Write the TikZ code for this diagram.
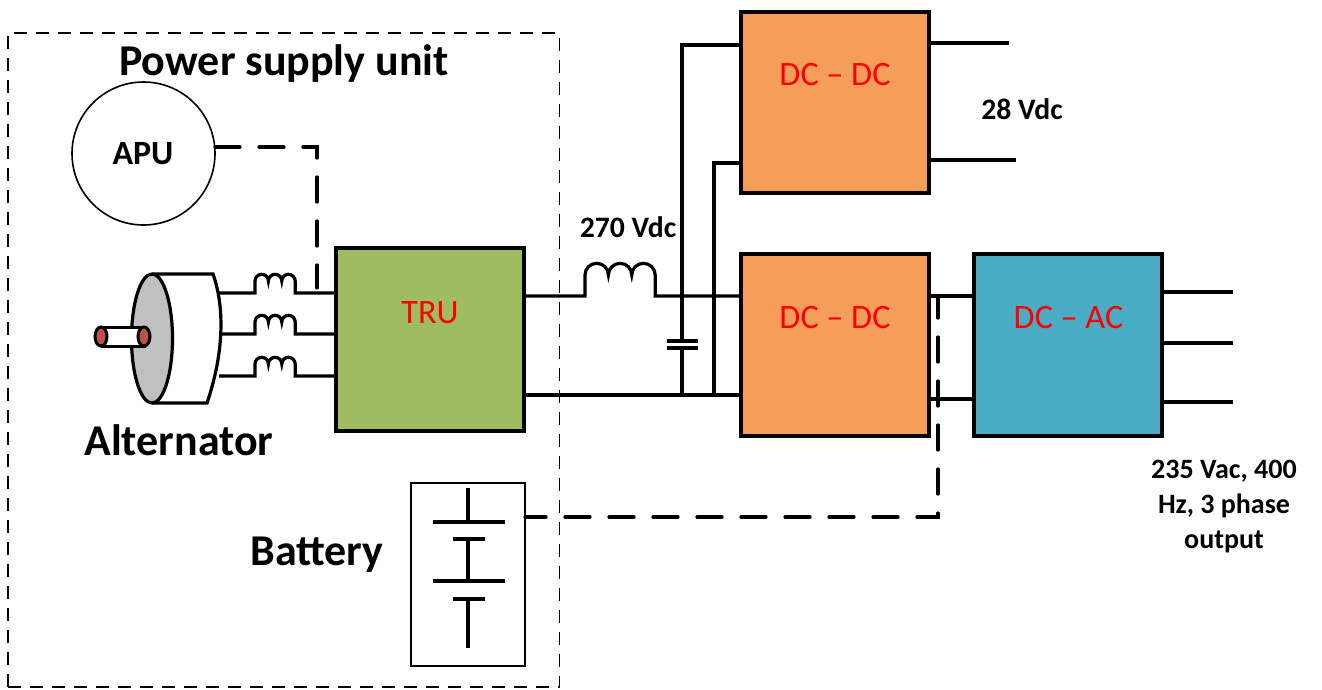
\documentclass[tikz,border=0pt]{standalone}
\usepackage{fontspec}
\setmainfont{Carlito}
\tikzset{
  wire/.style={line width=3.2pt,black},
  dashwire/.style={line width=3.2pt,black,line cap=round,dash pattern=on 25pt off 19pt},
  unitbox/.style={draw=black,line width=3.6pt,inner sep=0pt,anchor=north west},
  unitlabel/.style={text=red,font=\fontsize{34.2}{38}\selectfont},
  boldlabel/.style={font=\bfseries\fontsize{28}{35}\selectfont,align=center},
  midlabel/.style={font=\bfseries\fontsize{29.7}{34}\selectfont},
  biglabel/.style={font=\bfseries\fontsize{44}{48}\selectfont},
}
\definecolor{orangeC}{HTML}{F69E59}
\definecolor{greenC}{HTML}{9FBD60}
\definecolor{blueC}{HTML}{4BACC6}
\definecolor{greyC}{HTML}{C0C0C0}
\definecolor{redC}{HTML}{C0504D}
\begin{document}
\begin{tikzpicture}[x=1pt,y=-1pt]
\useasboundingbox (0,0) rectangle (1322,689);
% outer dashed
\draw[line width=1.6pt,dash pattern=on 13pt off 9pt] (8,687) -- (8,33) -- (559.5,33) -- (559.5,687) -- cycle;
\node[biglabel] (psu) at (284,64) {Power supply unit};
% APU
\node[draw,circle,line width=1.6pt,minimum size=143pt,inner sep=0pt] (apu) at (143.5,153.5) {};
\node[font=\bfseries\fontsize{34}{38}\selectfont] (apul) at (143,154) {APU};
% TRU
\node[unitbox,fill=greenC,minimum width=188pt,minimum height=183pt] (tru) at (334,246) {};
\node[unitlabel] (trul) at (430,312.5) {TRU};
% converters
\node[unitbox,fill=orangeC,minimum width=188pt,minimum height=181pt] (dc1) at (739,10) {};
\node[unitlabel] (dc1l) at (835,75) {DC -- DC};
\node[unitbox,fill=orangeC,minimum width=188pt,minimum height=182pt] (dc2) at (739,252) {};
\node[unitlabel] (dc2l) at (835,318) {DC -- DC};
\node[unitbox,fill=blueC,minimum width=188pt,minimum height=182pt] (ac) at (972,252) {};
\node[unitlabel] (acl) at (1068.5,318) {DC -- AC};
% alternator
\draw[line width=3.2pt,fill=white] (152,274) -- (213,274) .. controls (224,305) and (225,350) .. (207,403) -- (152,403);
\draw[line width=3.2pt,fill=greyC] (152,338.5) ellipse [x radius=20.5,y radius=64.5];
\draw[line width=3pt,fill=white] (101,327) -- (144,327) -- (144,346) -- (101,346);
\draw[line width=3pt,fill=redC] (101,336.5) ellipse [x radius=6,y radius=9.5];
\draw[line width=3pt,fill=redC] (144,336.5) ellipse [x radius=6,y radius=9.5];
\node[biglabel] (alt) at (179,440) {Alternator};
% three-phase
\foreach \y in {293,334,376}{
  \draw[wire] (219,\y) -- (255,\y) -- (255,\y-12) arc[start angle=180,end angle=360,radius=6.7]
     arc[start angle=180,end angle=360,radius=6.7] arc[start angle=180,end angle=360,radius=6.7]
     -- (295.2,\y) -- (336,\y);
}
\coordinate (apuout) at (215,147);
\coordinate (apudrop) at (317,147);
\coordinate (apuend) at (317,288);
\draw[dashwire] (apuout) -- (apudrop) -- (apuend);
% main bus
\coordinate (jt) at (682,296);
\coordinate (jb) at (682,395);
\coordinate (kt) at (714,296);
\coordinate (kb) at (714,395);
\draw[wire] (524,296) -- (585,296) -- (585,275) arc[start angle=180,end angle=360,radius=11.7]
  arc[start angle=180,end angle=360,radius=11.7] arc[start angle=180,end angle=360,radius=11.7]
  -- (655.2,296) -- (742,296);
\draw[wire] (524,395) -- (742,395);
\node[midlabel] (v270) at (628,227) {270 Vdc};
\draw[wire] (740,45) -- (682,45) -- (jt) -- (682,341);
\draw[wire] (667,341) -- (698,341);
\draw[wire] (667,348) -- (698,348);
\draw[wire] (682,348) -- (jb);
\draw[wire] (740,163) -- (714,163) -- (kt) -- (kb);
% outputs
\draw[wire] (928,43) -- (1009,43);
\draw[wire] (928,160) -- (1016,160);
\node[midlabel] (v28) at (1022,109) {28 Vdc};
\draw[wire] (928,296) -- (973,296);
\draw[wire] (928,399) -- (973,399);
\draw[wire] (1161,292) -- (1233,292);
\draw[wire] (1161,343) -- (1233,343);
\draw[wire] (1161,402) -- (1233,402);
\node[boldlabel] (v235) at (1224,507) {235 Vac, 400\\Hz, 3 phase\\output};
% battery
\node[draw,line width=1.6pt,minimum width=114pt,minimum height=183pt,inner sep=0pt,anchor=north west] (batt) at (410,482) {};
\node[biglabel] (battl) at (317,555) {Battery};
\draw[wire] (468,488) -- (468,522);
\draw[wire] (433,522) -- (505,522);
\draw[wire] (453,539) -- (485,539);
\draw[wire] (468,539) -- (468,581);
\draw[wire] (433,581) -- (505,581);
\draw[wire] (453,599) -- (485,599);
\draw[wire] (468,599) -- (468,648);
\coordinate (battc) at (938,517);
\coordinate (batte) at (938,296);
\draw[dashwire,dash phase=4pt] (525,517) -- (battc) -- (batte);
\end{tikzpicture}
\end{document}
